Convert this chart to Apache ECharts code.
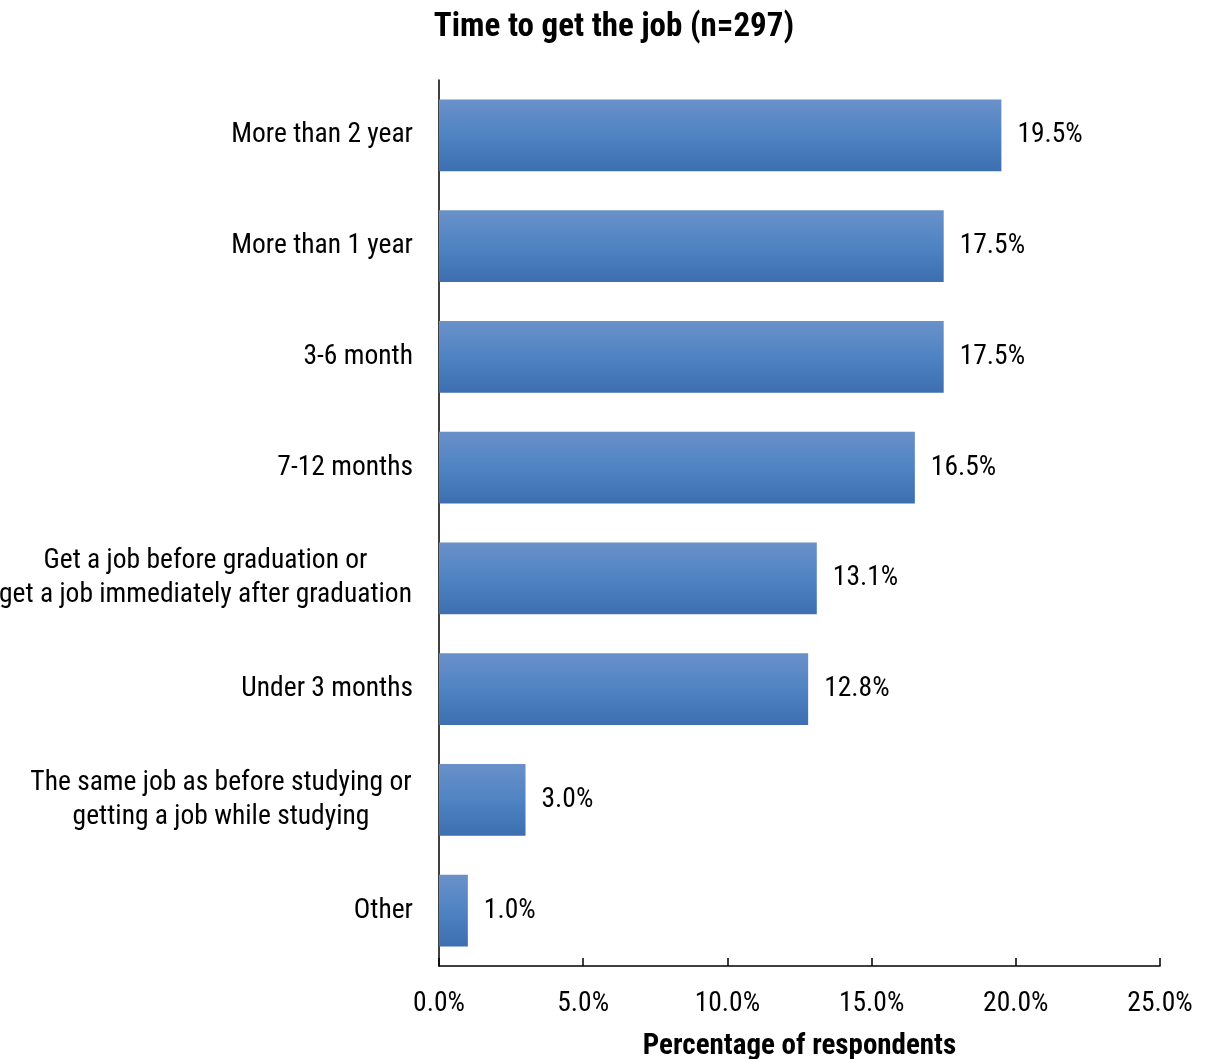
<!DOCTYPE html>
<html>
<head>
<meta charset="utf-8">
<title>Time to get the job</title>
<script src="https://cdn.jsdelivr.net/npm/echarts@6/dist/echarts.min.js"></script>
<style>
  html, body { margin: 0; padding: 0; background: #fff; }
  #chart { width: 1205px; height: 1059px; }
</style>
</head>
<body>
<div id="chart"></div>
<script>
// Survey answers, listed top to bottom
const categories = [
  'More than 2 year',
  'More than 1 year',
  '3-6 month',
  '7-12 months',
  'Get a job before graduation or\nget a job immediately after graduation',
  'Under 3 months',
  'The same job as before studying or\ngetting a job while studying',
  'Other'
];
// Share of respondents, in percent
const shares = [19.5, 17.5, 17.5, 16.5, 13.1, 12.8, 3.0, 1.0];
const xTicks = { min: 0, max: 25, step: 5 };

// Narrow sans: Roboto with its condensed width
const FONT = 'Roboto';
const STRETCH = 'normal condensed';
const LABEL_SIZE = 27.5;

// Multi-line category labels: lines centred on each other, block right-aligned
const ctx = document.createElement('canvas').getContext('2d');
ctx.font = STRETCH + ' normal ' + LABEL_SIZE + 'px ' + FONT;
const rich = {};
const labelText = categories.map((c, i) => {
  const lines = c.split('\n');
  if (lines.length === 1) return c;
  const w = Math.ceil(Math.max(...lines.map(l => ctx.measureText(l).width))) + 2;
  rich['w' + i] = {
    width: w, align: 'center', fontSize: LABEL_SIZE, fontFamily: FONT,
    fontStyle: STRETCH, lineHeight: 34, color: '#000'
  };
  return lines.map(l => '{w' + i + '|' + l + '}').join('\n');
});

const chart = echarts.init(document.getElementById('chart'));
chart.setOption({
  animation: false,
  backgroundColor: '#fff',
  title: {
    text: 'Time to get the job (n=297)',
    left: 609,
    top: 6,
    textAlign: 'center',
    textStyle: { fontFamily: FONT, fontStyle: STRETCH, fontSize: 33, fontWeight: 'bold', color: '#000' }
  },
  grid: { left: 439, right: 45, top: 80, bottom: 93, containLabel: false, outerBoundsMode: 'none' },
  xAxis: {
    type: 'value',
    min: xTicks.min,
    max: xTicks.max,
    interval: xTicks.step,
    name: 'Percentage of respondents',
    nameLocation: 'middle',
    nameGap: 66,
    nameTextStyle: { fontFamily: FONT, fontStyle: STRETCH, fontSize: 29, fontWeight: 'bold', color: '#000' },
    axisLine: { show: true, lineStyle: { color: '#000', width: 1.5 } },
    axisTick: { show: true, inside: true, length: 8, lineStyle: { color: '#000', width: 1.5 } },
    splitLine: { show: false },
    axisLabel: {
      margin: 24,
      fontFamily: FONT,
      fontStyle: STRETCH,
      fontSize: LABEL_SIZE,
      color: '#000',
      formatter: v => v.toFixed(1) + '%'
    }
  },
  yAxis: {
    type: 'category',
    inverse: true,
    data: categories,
    axisLine: { show: true, lineStyle: { color: '#000', width: 1.5 } },
    axisTick: { show: false },
    axisLabel: {
      margin: 26,
      fontFamily: FONT,
      fontStyle: STRETCH,
      fontSize: LABEL_SIZE,
      lineHeight: 34,
      color: '#000',
      formatter: (v, i) => labelText[i],
      rich: rich
    }
  },
  series: [{
    type: 'bar',
    data: shares,
    barCategoryGap: '35%',
    itemStyle: {
      color: new echarts.graphic.LinearGradient(0, 0, 0, 1, [
        { offset: 0, color: '#6a91c9' },
        { offset: 0.5, color: '#4f83c3' },
        { offset: 1, color: '#3c6eb0' }
      ])
    },
    label: {
      show: true,
      position: 'right',
      distance: 16,
      fontFamily: FONT,
      fontStyle: STRETCH,
      fontSize: LABEL_SIZE,
      color: '#000',
      formatter: p => p.value.toFixed(1) + '%'
    }
  }]
});
</script>
</body>
</html>
